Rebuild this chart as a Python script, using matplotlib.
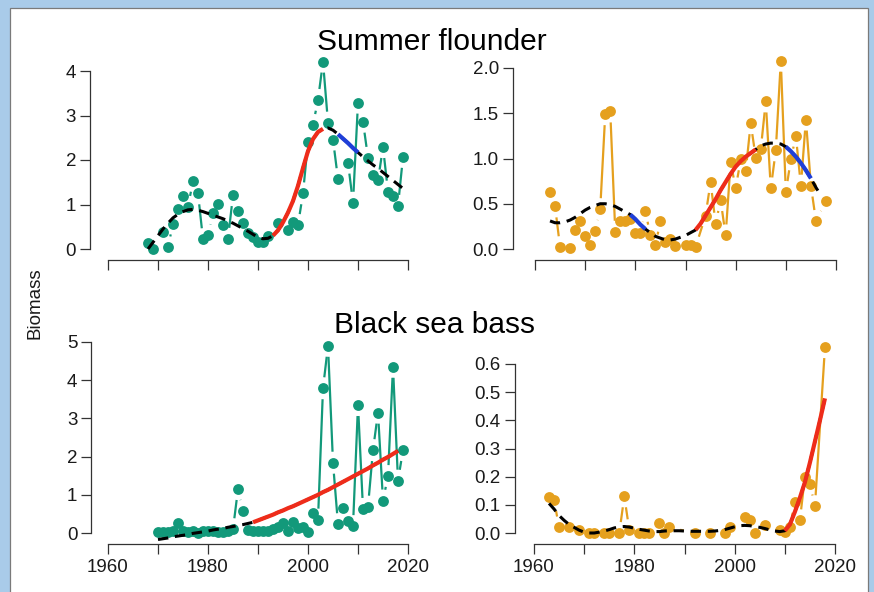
import numpy as np
import matplotlib
matplotlib.use("Agg")
import matplotlib.pyplot as plt
from matplotlib.patches import Rectangle

plt.rcParams['font.family'] = ['Liberation Sans', 'DejaVu Sans']

GREEN = '#12997a'
ORANGE = '#e5a01e'
RED = '#ee2c1a'
BLUE = '#1f3fd8'
AXC = '#333333'

# ---- Summer flounder, left panel (green) ----
sf1_years = [1968, 1969, 1971, 1972, 1973, 1974, 1975, 1976, 1977, 1978, 1979, 1980,
             1981, 1982, 1983, 1984, 1985, 1986, 1987, 1988, 1989, 1990, 1991, 1992,
             1994, 1996, 1997, 1998, 1999, 2000, 2001, 2002, 2003, 2004, 2005, 2006,
             2008, 2009, 2010, 2011, 2012, 2013, 2014, 2015, 2016, 2017, 2018, 2019]
sf1_vals = [0.14, 0.00, 0.39, 0.04, 0.57, 0.89, 1.20, 0.95, 1.53, 1.25, 0.22, 0.31,
            0.80, 1.01, 0.54, 0.23, 1.21, 0.86, 0.59, 0.37, 0.28, 0.16, 0.16, 0.30,
            0.58, 0.43, 0.61, 0.54, 1.25, 2.41, 2.79, 3.35, 4.21, 2.84, 2.46, 1.57,
            1.94, 1.04, 3.29, 2.86, 2.05, 1.66, 1.54, 2.29, 1.29, 1.18, 0.97, 2.07]
sf1_fit_years = list(range(1968, 2020))
sf1_fit = [0.00, 0.15, 0.30, 0.45, 0.58, 0.70, 0.78, 0.84, 0.88, 0.89, 0.87, 0.84, 0.80,
           0.76, 0.72, 0.68, 0.63, 0.58, 0.52, 0.46, 0.40, 0.33, 0.26, 0.23, 0.24, 0.30,
           0.42, 0.60, 0.82, 1.08, 1.42, 1.82, 2.20, 2.47, 2.63, 2.70, 2.72, 2.67, 2.58,
           2.48, 2.38, 2.27, 2.17, 2.07, 1.98, 1.89, 1.81, 1.72, 1.63, 1.54, 1.45, 1.36]
sf1_up = [(1993, 2003)]
sf1_down = [(2006, 2010)]

# ---- Summer flounder, right panel (orange) ----
sf2_years = [1963, 1964, 1965, 1967, 1968, 1969, 1970, 1971, 1972, 1973, 1974, 1975,
             1976, 1977, 1978, 1979, 1980, 1981, 1982, 1983, 1984, 1985, 1986, 1987,
             1988, 1990, 1991, 1992, 1994, 1995, 1996, 1997, 1998, 1999, 2000, 2001,
             2002, 2003, 2004, 2005, 2006, 2007, 2008, 2009, 2010, 2011, 2012, 2013,
             2014, 2015, 2016, 2018]
sf2_vals = [0.63, 0.47, 0.02, 0.01, 0.21, 0.31, 0.14, 0.04, 0.20, 0.44, 1.49, 1.52,
            0.19, 0.31, 0.31, 0.33, 0.18, 0.18, 0.42, 0.15, 0.04, 0.31, 0.08, 0.11,
            0.03, 0.04, 0.04, 0.02, 0.37, 0.74, 0.28, 0.54, 0.15, 0.96, 0.67, 0.99,
            0.86, 1.39, 1.01, 1.10, 1.63, 0.67, 1.09, 2.08, 0.63, 0.99, 1.25, 0.70,
            1.43, 0.70, 0.31, 0.53]
sf2_fit_years = list(range(1963, 2018))
sf2_fit = [0.31, 0.29, 0.29, 0.30, 0.32, 0.35, 0.39, 0.43, 0.46, 0.48, 0.50, 0.50, 0.49,
           0.47, 0.44, 0.41, 0.38, 0.33, 0.27, 0.22, 0.18, 0.14, 0.12, 0.10, 0.10, 0.11,
           0.13, 0.15, 0.18, 0.21, 0.28, 0.37, 0.46, 0.55, 0.65, 0.74, 0.83, 0.91, 0.97,
           1.02, 1.06, 1.10, 1.14, 1.16, 1.17, 1.17, 1.16, 1.13, 1.08, 1.02, 0.95, 0.87,
           0.78, 0.68, 0.59]
sf2_up = [(1992, 2004)]
sf2_down = [(1979, 1982), (2010, 2015)]

# ---- Black sea bass, left panel (green) ----
bsb1_years = list(range(1970, 2020))
bsb1_vals = [0.03, 0.02, 0.03, 0.04, 0.26, 0.05, 0.03, 0.04, 0.01, 0.06, 0.05, 0.06,
             0.03, 0.02, 0.05, 0.10, 1.15, 0.58, 0.07, 0.05, 0.04, 0.04, 0.06, 0.10,
             0.16, 0.27, 0.05, 0.29, 0.12, 0.16, 0.03, 0.52, 0.35, 3.79, 4.90, 1.84,
             0.23, 0.65, 0.31, 0.18, 3.35, 0.63, 0.69, 2.17, 3.15, 0.85, 1.49, 4.35,
             1.37, 2.17]
bsb1_fit_years = list(range(1970, 2019))
bsb1_fit = [-0.17, -0.15, -0.13, -0.10, -0.08, -0.06, -0.04, -0.01, 0.01, 0.03, 0.05,
            0.08, 0.10, 0.12, 0.15, 0.17, 0.20, 0.22, 0.25, 0.28, 0.33, 0.38, 0.43, 0.48,
            0.54, 0.59, 0.65, 0.70, 0.76, 0.82, 0.88, 0.94, 1.00, 1.07, 1.13, 1.20, 1.27,
            1.34, 1.41, 1.48, 1.55, 1.62, 1.69, 1.77, 1.84, 1.92, 1.99, 2.07, 2.15]
bsb1_up = [(1989, 2018)]
bsb1_down = []

# ---- Black sea bass, right panel (orange) ----
bsb2_years = [1963, 1964, 1965, 1967, 1969, 1971, 1972, 1974, 1975, 1977, 1978, 1979,
              1981, 1982, 1983, 1985, 1986, 1987, 1992, 1995, 1998, 1999, 2002, 2003,
              2004, 2006, 2009, 2010, 2011, 2012, 2013, 2014, 2015, 2016, 2018]
bsb2_vals = [0.127, 0.117, 0.020, 0.020, 0.010, 0.000, 0.000, 0.000, 0.000, 0.000,
             0.130, 0.010, 0.000, 0.000, 0.000, 0.034, 0.000, 0.020, 0.000, 0.000,
             0.000, 0.020, 0.057, 0.045, 0.000, 0.030, 0.010, 0.005, 0.020, 0.110,
             0.045, 0.200, 0.175, 0.095, 0.660]
bsb2_fit_years = list(range(1963, 2019))
bsb2_fit = [0.105, 0.085, 0.062, 0.045, 0.030, 0.020, 0.010, 0.003, 0.000, 0.000, 0.003,
            0.007, 0.012, 0.018, 0.022, 0.023, 0.021, 0.017, 0.013, 0.010, 0.007, 0.005,
            0.005, 0.007, 0.008, 0.008, 0.008, 0.007, 0.006, 0.006, 0.006, 0.006, 0.006,
            0.007, 0.009, 0.012, 0.017, 0.022, 0.026, 0.027, 0.026, 0.023, 0.020, 0.016,
            0.011, 0.007, 0.005, 0.008, 0.030, 0.075, 0.125, 0.180, 0.250, 0.325, 0.400,
            0.478]
bsb2_up = [(2010, 2018)]
bsb2_down = []

x_ticks = [1960, 1970, 1980, 1990, 2000, 2010, 2020]
x_ticklabels = ['1960', '', '1980', '', '2000', '', '2020']

W, H = 874, 592
fig = plt.figure(figsize=(W / 100, H / 100), dpi=100)
fig.patch.set_facecolor('#a9cbe9')
fig.patches.append(Rectangle((10 / W, -0.01), 858 / W, 1.01 - 8 / H, transform=fig.transFigure,
                             facecolor='white', edgecolor='#7a7a7a', lw=0.9, zorder=-5))


def px_axes(x0, x1, ytop, ybot):
    return fig.add_axes([x0 / W, 1 - ybot / H, (x1 - x0) / W, (ybot - ytop) / H])


def setup(ax, ymax, yticks, yfmt, left_off, xlabels):
    ax.set_xlim(1960, 2020)
    ax.set_ylim(0, ymax)
    ax.patch.set_alpha(0)
    for s in ['top', 'right']:
        ax.spines[s].set_visible(False)
    ax.spines['left'].set_position(('outward', left_off))
    ax.spines['bottom'].set_position(('outward', 8))
    ax.spines['left'].set_bounds(0, ymax)
    ax.spines['bottom'].set_bounds(1960, 2020)
    for s in ['left', 'bottom']:
        ax.spines[s].set_color(AXC)
        ax.spines[s].set_linewidth(0.9)
    ax.set_xticks(x_ticks)
    ax.set_xticklabels(x_ticklabels if xlabels else [''] * len(x_ticks))
    ax.set_yticks(yticks)
    ax.set_yticklabels([yfmt.format(t) for t in yticks])
    ax.tick_params(direction='out', length=7.5, width=0.9, color=AXC,
                   labelsize=13.5, labelcolor='#1a1a1a')
    ax.tick_params(axis='y', pad=2.5)
    ax.tick_params(axis='x', pad=3)


def type_b(ax, x, y, color, gap=11):
    # R type="b": points joined by lines that stop short of each point
    pts = ax.transData.transform(np.column_stack([x, y]))
    inv = ax.transData.inverted()
    for p0, p1 in zip(pts[:-1], pts[1:]):
        d = p1 - p0
        L = np.hypot(d[0], d[1])
        if L <= 2 * gap:
            continue
        u = d / L
        a = inv.transform(p0 + u * gap)
        b = inv.transform(p1 - u * gap)
        ax.plot([a[0], b[0]], [a[1], b[1]], color=color, lw=1.6,
                solid_capstyle='butt', clip_on=False, zorder=2)
    ax.plot(x, y, 'o', color=color, ms=7.8, mew=0, clip_on=False, zorder=3)


def fit_line(ax, fy, fv, ups, downs):
    fy = np.array(fy)
    fv = np.array(fv)
    ax.plot(fy, fv, color='black', lw=2.2, dashes=(3.4, 2.2), clip_on=False, zorder=4)
    for ranges, col in [(ups, RED), (downs, BLUE)]:
        for a, b in ranges:
            m = (fy >= a) & (fy <= b)
            ax.plot(fy[m], fv[m], color=col, lw=3, solid_capstyle='butt',
                    clip_on=False, zorder=5)


panels = [
    (px_axes(108, 408, 71, 249), sf1_years, sf1_vals, GREEN, sf1_fit_years, sf1_fit,
     sf1_up, sf1_down, 4, [0, 1, 2, 3, 4], '{:g}', 13, False),
    (px_axes(535, 836, 68, 249), sf2_years, sf2_vals, ORANGE, sf2_fit_years, sf2_fit,
     sf2_up, sf2_down, 2, [0, 0.5, 1, 1.5, 2], '{:.1f}', 16, False),
    (px_axes(108, 408, 342, 533), bsb1_years, bsb1_vals, GREEN, bsb1_fit_years, bsb1_fit,
     bsb1_up, bsb1_down, 5, [0, 1, 2, 3, 4, 5], '{:g}', 12, True),
    (px_axes(534, 835, 364, 533), bsb2_years, bsb2_vals, ORANGE, bsb2_fit_years, bsb2_fit,
     bsb2_up, bsb2_down, 0.6, [0, 0.1, 0.2, 0.3, 0.4, 0.5, 0.6], '{:.1f}', 14, True),
]

for ax, yrs, vals, col, fy, fv, ups, downs, ymax, yt, yfmt, loff, xl in panels:
    setup(ax, ymax, yt, yfmt, loff, xl)
    type_b(ax, yrs, vals, col)
    fit_line(ax, fy, fv, ups, downs)

fig.text(432 / W, 1 - 50.5 / H, 'Summer flounder', ha='center', va='baseline', fontsize=21.5)
fig.text(434 / W, 1 - 333 / H, 'Black sea bass', ha='center', va='baseline', fontsize=21.5)
fig.text(35 / W, 1 - 303 / H, 'Biomass', rotation=90, ha='center', va='center',
         fontsize=13.5, color='#1a1a1a')

fig.savefig('out.png', dpi=100, facecolor=fig.get_facecolor())
